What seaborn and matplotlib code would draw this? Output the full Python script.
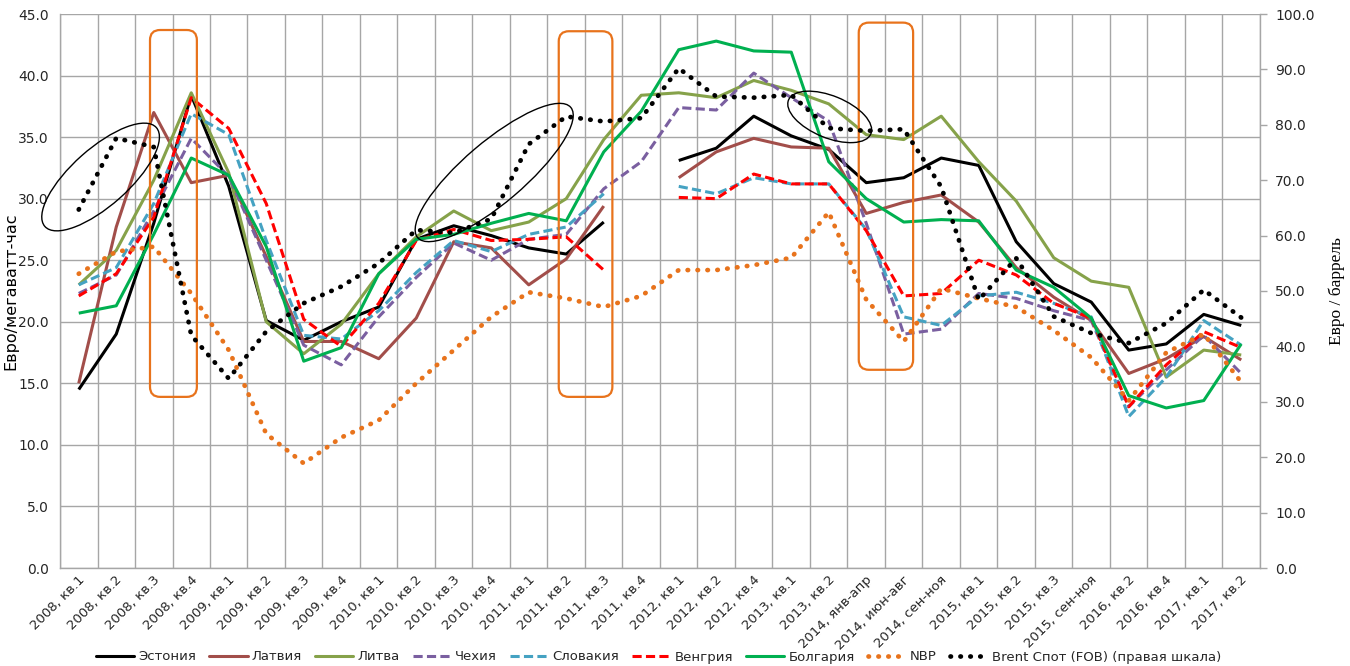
import numpy as np
import pandas as pd
import matplotlib
matplotlib.use("Agg")
import matplotlib.pyplot as plt
import seaborn as sns
from matplotlib.patches import FancyBboxPatch, Ellipse
from matplotlib.lines import Line2D
from matplotlib.transforms import IdentityTransform, ScaledTranslation

nan = np.nan

categories = [
    "2008, кв.1", "2008, кв.2", "2008, кв.3", "2008, кв.4",
    "2009, кв.1", "2009, кв.2", "2009, кв.3", "2009, кв.4",
    "2010, кв.1", "2010, кв.2", "2010, кв.3", "2010, кв.4",
    "2011, кв.1", "2011, кв.2", "2011, кв.3", "2011, кв.4",
    "2012, кв.1", "2012, кв.2", "2012, кв.4",
    "2013, кв.1", "2013, кв.2",
    "2014, янв-апр", "2014, июн-авг", "2014, сен-ноя",
    "2015, кв.1", "2015, кв.2", "2015, кв.3", "2015, сен-ноя",
    "2016, кв.2", "2016, кв.4", "2017, кв.1", "2017, кв.2",
]

estonia = [14.5, 19.0, 28.0, 38.4, 31.0, 20.1, 18.5, 20.0, 21.2, 26.7, 27.8, 27.0, 26.0, 25.5, 28.1, nan,
           33.1, 34.1, 36.7, 35.1, 34.0, 31.3, 31.7, 33.3, 32.7, 26.5, 23.1, 21.6, 17.7, 18.2, 20.6, 19.7]
latvia = [15.0, 27.7, 37.0, 31.3, 31.9, 25.3, 18.4, 18.4, 17.0, 20.3, 26.5, 26.0, 23.0, 25.1, 29.4, nan,
          31.7, 33.8, 34.9, 34.2, 34.1, 28.8, 29.7, 30.3, 28.1, 24.4, 22.0, 20.1, 15.8, 17.0, 18.8, 16.9]
lithuania = [23.0, 25.8, 31.5, 38.6, 32.1, 20.0, 17.4, 19.8, 23.9, 26.9, 29.0, 27.4, 28.1, 30.0, 34.8, 38.4,
             38.6, 38.2, 39.6, 38.8, 37.7, 35.2, 34.8, 36.7, 33.0, 29.8, 25.2, 23.3, 22.8, 15.5, 17.7, 17.3]
czech = [22.3, 23.8, 29.0, 34.9, 31.8, 25.0, 18.1, 16.5, 20.4, 23.6, 26.4, 25.0, 26.7, 27.1, 30.8, 33.0,
         37.4, 37.2, 40.2, 38.2, 36.3, 28.0, 19.0, 19.4, 22.3, 21.9, 20.9, 20.1, 13.1, 16.1, 18.9, 15.8]
slovakia = [23.0, 24.4, 29.6, 36.9, 35.2, 26.6, 18.9, 18.6, 20.9, 24.0, 26.6, 25.7, 27.1, 27.7, 30.4, nan,
            31.0, 30.4, 31.7, 31.2, 31.2, 27.5, 20.4, 19.7, 22.1, 22.4, 21.5, 20.4, 12.3, 15.5, 20.1, 18.1]
hungary = [22.1, 23.9, 28.5, 38.2, 35.7, 29.6, 20.2, 18.0, 21.5, 26.6, 27.5, 26.6, 26.7, 26.9, 24.2, nan,
           30.1, 30.0, 32.0, 31.2, 31.2, 27.4, 22.1, 22.3, 25.0, 23.8, 21.5, 20.3, 13.1, 16.5, 19.2, 17.9]
bulgaria = [20.7, 21.3, 27.1, 33.3, 31.9, 26.1, 16.8, 17.9, 23.9, 26.7, 27.1, 28.0, 28.8, 28.2, 33.8, 37.1,
            42.1, 42.8, 42.0, 41.9, 33.0, 30.0, 28.1, 28.3, 28.2, 24.2, 22.8, 20.3, 14.0, 13.0, 13.6, 18.2]
nbp = [23.9, 25.7, 26.1, 22.3, 17.7, 10.9, 8.5, 10.6, 12.0, 15.0, 17.7, 20.4, 22.4, 21.9, 21.2, 22.1,
       24.2, 24.2, 24.6, 25.2, 28.9, 21.8, 18.4, 22.7, 21.9, 21.2, 19.3, 17.1, 13.6, 17.5, 19.0, 15.1]
brent = [64.7, 77.6, 76.0, 42.0, 34.2, 42.7, 47.8, 50.8, 55.0, 61.0, 60.5, 63.0, 76.5, 81.5, 80.6, 81.2,
         90.2, 85.1, 84.9, 85.4, 79.4, 78.9, 79.2, 68.8, 48.4, 55.9, 45.4, 42.4, 40.6, 44.2, 50.2, 45.2]

series_names = ["Эстония", "Латвия", "Литва", "Чехия", "Словакия", "Венгрия", "Болгария", "NBP",
                "Brent Спот (FOB) (правая шкала)"]

DASH = (0, (3.0, 1.4))
DOT = (0, (0.1, 2.0))
styles = [
    ("#000000", "-", 2.2),
    ("#A24E4A", "-", 2.2),
    ("#86A24A", "-", 2.2),
    ("#7A5FA0", DASH, 2.2),
    ("#45A2C2", DASH, 2.2),
    ("#FF0000", DASH, 2.2),
    ("#00B050", "-", 2.2),
    ("#E8731C", DOT, 3.4),
    ("#000000", DOT, 3.4),
]

sns.set_style("white")
plt.rcParams["font.family"] = ["DejaVu Sans"]

W, H = 1350, 666
fig = plt.figure(figsize=(W / 100, H / 100), dpi=100)
ax = fig.add_axes([60 / W, 98 / H, 1200 / W, 554 / H])
ax2 = ax.twinx()


def draw(axis, values, color, ls, lw):
    s = pd.Series(values, dtype=float)
    df = pd.DataFrame({"x": np.arange(len(s)), "y": s, "seg": s.isna().cumsum()}).dropna()
    sns.lineplot(data=df, x="x", y="y", units="seg", estimator=None, ax=axis, color=color,
                 linestyle=ls, lw=lw, legend=False, dash_capstyle="round" if ls is DOT else "butt",
                 solid_capstyle="butt", sort=True)


left_series = [estonia, latvia, lithuania, czech, slovakia, hungary, bulgaria, nbp]
for vals, (c, ls, lw) in zip(left_series, styles[:8]):
    draw(ax, vals, c, ls, lw)
draw(ax2, brent, *styles[8])

grid_c = "#A6A6A6"
ax.set_xlim(-0.5, len(categories) - 0.5)
ax.set_ylim(0, 45)
ax2.set_ylim(0, 100)
ax.set_yticks(np.arange(0, 45.1, 5))
ax.set_yticklabels([f"{v:.1f}" for v in np.arange(0, 45.1, 5)])
ax2.set_yticks(np.arange(0, 100.1, 10))
ax2.set_yticklabels([f"{v:.1f}" for v in np.arange(0, 100.1, 10)])
ax.set_xticks(np.arange(len(categories)))
ax.set_xticklabels(categories, rotation=45, ha="right", va="center", rotation_mode="anchor")
ax.set_xticks(np.arange(-0.5, len(categories), 1), minor=True)
ax.grid(which="major", axis="y", color=grid_c, lw=1.0)
ax.grid(which="minor", axis="x", color=grid_c, lw=1.0)
ax.grid(which="major", axis="x", visible=False)
ax2.grid(False)
ax.set_axisbelow(True)

ax.tick_params(axis="x", which="both", length=0, pad=7, labelsize=9.5, labelcolor="#262626")
ax.tick_params(axis="y", length=0, pad=8, labelsize=10, labelcolor="#262626")
ax2.tick_params(axis="y", length=5, width=1, color=grid_c, pad=6, labelsize=10, labelcolor="#262626", direction="out")
for lab in ax.get_xticklabels():
    lab.set_transform(lab.get_transform() + ScaledTranslation(4 / 100, 0, fig.dpi_scale_trans))

for sp in ["top", "right"]:
    ax.spines[sp].set_visible(False)
for sp in ["left", "bottom"]:
    ax.spines[sp].set_color(grid_c)
    ax.spines[sp].set_linewidth(1.0)
for sp in ["top", "left", "bottom"]:
    ax2.spines[sp].set_visible(False)
ax2.spines["right"].set_color(grid_c)
ax2.spines["right"].set_linewidth(1.0)

ax.set_xlabel("")
ax2.set_xlabel("")
ax.set_ylabel("Евро/мегаватт-час", fontsize=11.5, color="#000000")
ax.yaxis.set_label_coords(-42 / 1200, 0.5)
ax2.set_ylabel("Евро / баррель", fontsize=12.5, family="Liberation Serif", color="#000000", labelpad=10)

# orange rounded highlight boxes (x in category units, y in left-axis units)
boxes = [(1.9, 3.15, 13.9, 43.7), (12.8, 14.23, 13.9, 43.6), (20.8, 22.25, 16.1, 44.3)]
asp = (45 / 554) / (len(categories) / 1200)
for x0, x1, y0, y1 in boxes:
    ax.add_patch(FancyBboxPatch((x0, y0), x1 - x0, y1 - y0,
                                boxstyle="round,pad=0,rounding_size=0.27", mutation_aspect=asp,
                                fill=False, ec="#E8731C", lw=1.6, zorder=5, clip_on=False))

# black ellipses (pixel geometry)
ellipses = [((100.6, 177.0), 149, 57, 41.6), ((494.2, 172.5), 201, 61, 40.4), ((829.7, 116.9), 89, 42, -22.3)]
for (cx, cy), w, h, ang in ellipses:
    fig.add_artist(Ellipse((cx, H - cy), w, h, angle=ang, fill=False, ec="black", lw=1.0,
                           transform=IdentityTransform(), zorder=10))

handles = []
for (c, ls, lw) in styles:
    handles.append(Line2D([0], [0], color=c, linestyle=ls, lw=lw,
                          dash_capstyle="round" if ls is DOT else "butt"))
fig.legend(handles, series_names, loc="center", bbox_to_anchor=(0.488, 1 - 657 / H), ncol=9,
           frameon=False, fontsize=9.5, handlelength=2.9, handletextpad=0.3, columnspacing=1.0)

fig.savefig("out.png", dpi=100)
